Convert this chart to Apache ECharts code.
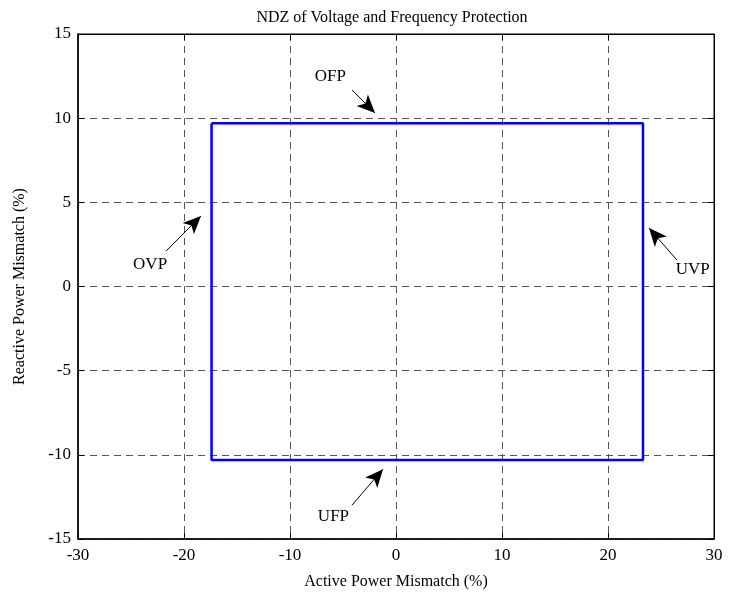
<!DOCTYPE html>
<html>
<head>
<meta charset="utf-8">
<script src="https://cdn.jsdelivr.net/npm/echarts@6/dist/echarts.min.js"></script>
<style>html,body{margin:0;padding:0;background:#fff;}#c{width:729px;height:597px;}</style>
</head>
<body>
<div id="c"></div>
<script>
// NDZ rectangle boundary (Active %, Reactive %)
var ndzX = [-17.4, 23.3, 23.3, -17.4, -17.4];
var ndzY = [9.7, 9.7, -10.3, -10.3, 9.7];
// tick values
var xTicks = [-30, -20, -10, 0, 10, 20, 30];
var yTicks = [-15, -10, -5, 0, 5, 10, 15];
// annotations: label, text position, arrow tail, arrow head (data coords)
var annLabels = ['OFP', 'OVP', 'UVP', 'UFP'];
var annText = [[-6.2, 12.45], [-23.2, 1.33], [28.0, 0.98], [-5.9, -13.64]];
var annTail = [[-4.15, 11.67], [-21.7, 2.1], [26.5, 1.57], [-4.15, -12.99]];
var annHead = [[-1.98, 10.31], [-18.4, 4.19], [23.87, 3.47], [-1.23, -10.85]];

var font = 'Liberation Serif';
var chart = echarts.init(document.getElementById('c'));
var gridLine = {show: true, lineStyle: {color: '#555', type: [7, 5], width: 1}};
var rectData = ndzX.map(function (x, i) { return [x, ndzY[i]]; });

chart.setOption({
  animation: false,
  backgroundColor: '#fff',
  title: {
    text: 'NDZ of Voltage and Frequency Protection',
    left: 387, top: 5, textAlign: 'center',
    textStyle: {fontFamily: font, fontSize: 16, fontWeight: 'normal', color: '#000'}
  },
  grid: {left: 78, right: 15, top: 34, bottom: 58, show: true, borderColor: '#000', borderWidth: 1},
  xAxis: [{
    type: 'value', min: xTicks[0], max: xTicks[xTicks.length - 1], interval: 10,
    name: 'Active Power Mismatch (%)', nameLocation: 'middle', nameGap: 35,
    nameTextStyle: {fontFamily: font, fontSize: 16, color: '#000'},
    axisLine: {show: true, onZero: false, lineStyle: {color: '#000', width: 1.5}},
    axisTick: {show: true, inside: true, length: 6, lineStyle: {color: '#000'}},
    axisLabel: {fontFamily: font, fontSize: 17, color: '#000', margin: 8},
    splitLine: gridLine
  }, {
    type: 'value', position: 'top', min: xTicks[0], max: xTicks[xTicks.length - 1], interval: 10,
    axisLine: {show: true, onZero: false, lineStyle: {color: '#000', width: 1}},
    axisTick: {show: true, inside: true, length: 6, lineStyle: {color: '#000'}},
    axisLabel: {show: false}, splitLine: {show: false}
  }],
  yAxis: [{
    type: 'value', min: yTicks[0], max: yTicks[yTicks.length - 1], interval: 5,
    name: 'Reactive Power Mismatch (%)', nameLocation: 'middle', nameGap: 50,
    nameTextStyle: {fontFamily: font, fontSize: 16, color: '#000'},
    axisLine: {show: true, onZero: false, lineStyle: {color: '#000', width: 1.5}},
    axisTick: {show: true, inside: true, length: 6, lineStyle: {color: '#000'}},
    axisLabel: {fontFamily: font, fontSize: 17, color: '#000', margin: 7},
    splitLine: gridLine
  }, {
    type: 'value', position: 'right', min: yTicks[0], max: yTicks[yTicks.length - 1], interval: 5,
    axisLine: {show: true, onZero: false, lineStyle: {color: '#000', width: 1}},
    axisTick: {show: true, inside: true, length: 6, lineStyle: {color: '#000'}},
    axisLabel: {show: false}, splitLine: {show: false}
  }],
  series: [{
    type: 'line', data: rectData, showSymbol: false, symbol: 'none',
    lineStyle: {color: '#0000ff', width: 2.5}, z: 3,
    markLine: {
      silent: true, symbol: ['none', 'arrow'], symbolSize: [12, 18],
      lineStyle: {color: '#000', width: 1, type: 'solid'},
      label: {show: false},
      data: annTail.map(function (t, i) { return [{coord: t}, {coord: annHead[i]}]; })
    }
  }, {
    type: 'scatter', symbolSize: 0, silent: true,
    itemStyle: {opacity: 1},
    data: annText.map(function (p, i) { return {value: p, name: annLabels[i]}; }),
    label: {show: true, position: [0, 0], align: 'center', verticalAlign: 'middle',
      formatter: '{b}', fontFamily: font, fontSize: 17, color: '#000', opacity: 1, textBorderWidth: 0},
    z: 4
  }]
});
</script>
</body>
</html>
